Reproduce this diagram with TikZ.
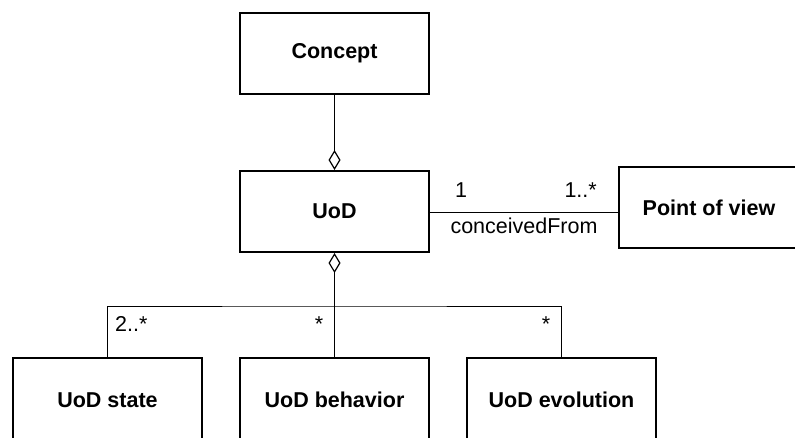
\documentclass[tikz,border=0pt]{standalone}
\usepackage{fontspec}
\setmainfont{Liberation Sans}
\usetikzlibrary{arrows.meta}
\begin{document}
\begin{tikzpicture}[x=1pt,y=-1pt,
  classbox/.style={draw,line width=2pt,fill=white,minimum width=189pt,minimum height=81pt,
    inner sep=0pt,font=\fontsize{21.5}{25}\selectfont\bfseries},
  conn/.style={line width=1pt},
  agg/.style={conn,-{Diamond[open,length=20pt,width=12pt,line width=1.2pt]}},
  lbl/.style={inner sep=0pt,font=\fontsize{21.5}{25}\selectfont}]
  \useasboundingbox (0,0) rectangle (795,437);
  \clip (0,0) rectangle (795,437);
  % classes
  \node[classbox] (concept) at (334.5,53.5) {Concept};
  \node[classbox] (uod) at (334.5,211.5) {UoD};
  \node[classbox,minimum width=180pt] (pov) at (709,207.5) {Point of view};
  \node[classbox,minimum height=84pt] (state) at (107.5,400) {UoD state};
  \node[classbox,minimum height=84pt] (behavior) at (334.5,400) {UoD behavior};
  \node[classbox,minimum height=84pt] (evolution) at (561.5,400) {UoD evolution};
  % aggregation: concept is made of a UoD
  \draw[agg] (concept.south -| uod.north) -- (uod.north);
  % association between UoD and point of view
  \draw[conn] (uod.east |- 0,212) coordinate (a1) -- (pov.west |- 0,212) coordinate (a2);
  \node[lbl,anchor=base west] (m1) at (455,197) {1};
  \node[lbl,anchor=base east] (m2) at (597,197) {1..*};
  \node[lbl,anchor=base] (assoc) at (524,233) {conceivedFrom};
  % aggregation of the UoD parts
  \coordinate (bus) at (334.5,306);
  \draw[agg] (behavior.north) -- (uod.south);
  \draw[conn] (state.north) |- (bus) -| (evolution.north);
  \node[lbl,anchor=base west] (ms) at (115,331) {2..*};
  \node[lbl,anchor=base] (mb) at (319,331) {*};
  \node[lbl,anchor=base] (me) at (546,331) {*};
\end{tikzpicture}
\end{document}
